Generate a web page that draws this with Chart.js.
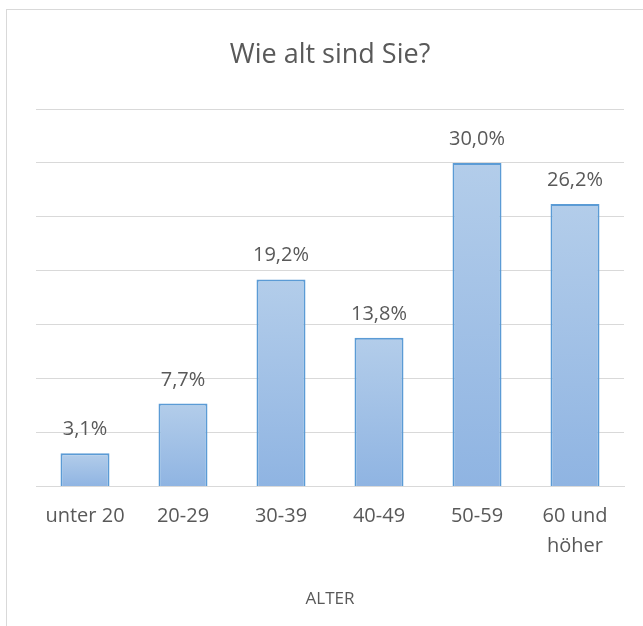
<!DOCTYPE html>
<html>
<head>
<meta charset="utf-8">
<script src="https://cdn.jsdelivr.net/npm/chart.js@4"></script>
<style>
  body { margin: 0; background: #fff; overflow: hidden; }
  #frame { position: absolute; left: 6px; top: 9px; width: 700px; height: 700px; border: 1px solid #d9d9d9; }
  #wrap { position: absolute; left: 0; top: 0; width: 643px; height: 626px; }
</style>
</head>
<body>
<div id="frame"></div>
<div id="wrap"><canvas id="c"></canvas></div>
<script>
const categories = ["unter 20", "20-29", "30-39", "40-49", "50-59", ["60 und", "höher"]];
const shares = [3.1, 7.7, 19.2, 13.8, 30.0, 26.2];
const chartTitle = "Wie alt sind Sie?";
const axisTitle = "ALTER";

const FONT = "'Open Sans', sans-serif";
const fmt = v => v.toFixed(1).replace(".", ",") + "%";

// percentage labels above the bars
const valueLabels = {
  id: "valueLabels",
  afterDatasetsDraw(chart) {
    const ctx = chart.ctx;
    const meta = chart.getDatasetMeta(0);
    ctx.save();
    ctx.fillStyle = "#595959";
    ctx.font = "20px " + FONT;
    ctx.textAlign = "center";
    ctx.textBaseline = "alphabetic";
    meta.data.forEach((bar, i) => {
      ctx.fillText(fmt(shares[i]), bar.x, bar.y - 18);
    });
    ctx.restore();
  }
};

function barFill(context) {
  const chart = context.chart;
  if (!chart.chartArea || context.dataIndex === undefined) return "#a3c1e8";
  const y = chart.scales.y;
  const top = y.getPixelForValue(shares[context.dataIndex]);
  const bottom = y.getPixelForValue(0);
  const g = chart.ctx.createLinearGradient(0, top, 0, bottom);
  g.addColorStop(0, "#b3cdea");
  g.addColorStop(1, "#8fb4e2");
  return g;
}

new Chart(document.getElementById("c"), {
  type: "bar",
  data: {
    labels: categories,
    datasets: [{
      data: shares,
      backgroundColor: barFill,
      borderColor: "#5b9bd5",
      borderWidth: 2,
      barPercentage: 0.5,
      categoryPercentage: 1.0
    }]
  },
  plugins: [valueLabels],
  options: {
    responsive: true,
    maintainAspectRatio: false,
    animation: false,
    layout: { padding: { left: 36, right: 19, top: 0, bottom: 17 } },
    plugins: {
      legend: { display: false },
      tooltip: { enabled: false },
      title: {
        display: true,
        text: chartTitle,
        color: "#595959",
        font: { family: FONT, size: 27, weight: "normal", lineHeight: 1.2 },
        padding: { top: 39, bottom: 37.6 }
      }
    },
    scales: {
      x: {
        grid: { display: false, drawTicks: false },
        border: { display: true, color: "#d9d9d9", width: 1 },
        ticks: {
          color: "#595959",
          font: { family: FONT, size: 20, lineHeight: 1.5 },
          padding: 15,
          maxRotation: 0,
          autoSkip: false
        },
        title: {
          display: true,
          text: axisTitle,
          color: "#595959",
          font: { family: FONT, size: 17, lineHeight: 1.2 },
          padding: { top: 12, bottom: 0 }
        }
      },
      y: {
        display: true,
        min: 0,
        max: 35,
        afterFit(scale) { scale.width = 0; },
        ticks: { display: false, stepSize: 5 },
        grid: { color: "#d9d9d9", lineWidth: 1, drawTicks: false },
        border: { display: false }
      }
    }
  }
});
</script>
</body>
</html>
